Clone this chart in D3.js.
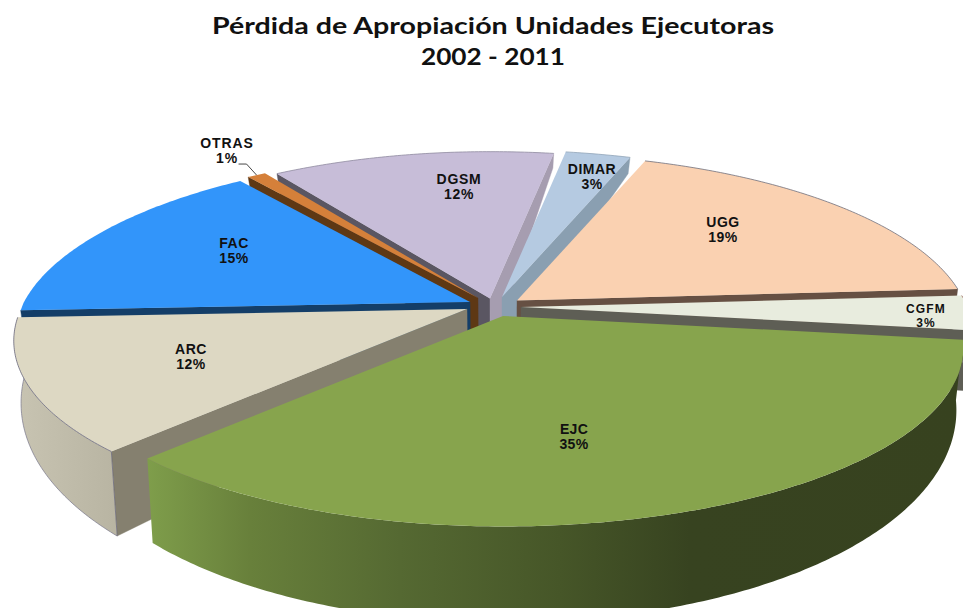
<!DOCTYPE html>
<html><head><meta charset="utf-8">
<script src="https://cdn.jsdelivr.net/npm/d3@7"></script>
<style>html,body{margin:0;padding:0;background:#fff;overflow:hidden}svg{display:block}</style>
</head><body><svg id="c" width="963" height="608"></svg>
<script>
// ---- data
const categories = ["EJC","ARC","FAC","OTRAS","DGSM","DIMAR","UGG","CGFM"];
const values     = [35.1, 12, 15.49, 0.8, 12.15, 2.75, 18.5, 3.21];
const titleLines = ["Pérdida de Apropiación Unidades Ejecutoras","2002 - 2011"];
// ---- styles
const topColors   = ["#87a44d","#ddd8c3","#3295fa","#d5803a","#c7bdd8","#b5cae1","#fad1b1","#e8ecde"];
const startWalls  = ["#3a4420","#85806f","#143e68","#5e3814","#5a5662","#8a9fb1","#665043","#5e5e55"];
const endWalls    = ["#3a4420","#85806f","#143e68","#5e3814","#a69db0","#8a9fb1","#665043","#5e5e55"];
const rimStrokes  = ["none","#6b6a80","none","none","#8f8aa0","#8fa3b8","#70707c","#9a6a60"];
const outerColors = [null,"arc",null,null,null,null,null,"#7a7a70"];
// ---- layout
const apexDX = [503,467,470,478,490,502,517,521];
const apexDY = [316,309,302,298,298.5,297,300.5,307];
const labelX = [574,191,234,227,459,592,723,926];
const labelY = [429,349,243,143,179,169,222,308];
const labelGap = [15,15,15,15,15,15,15,13.8];
const labelSize = [14,14,14,14,14,14,14,12];
const labelSpacing = [0.3,0.5,0.5,0.9,0.7,0.5,0.5,1.2];
const R_RIGHT = 453, R_RIGHT_BACK = 447, R_LEFT = 446, R_LEFT_BACK_DROP = 12;
const RK = 173, P = 0.178, CX = 500, SHRINK = 0.985;
const startAngle = (97.7) * Math.PI / 180;

const svg = d3.select("#c");
const defs = svg.append("defs");
function grad(id, stops){
  const g = defs.append("linearGradient").attr("id",id).attr("gradientUnits","userSpaceOnUse")
    .attr("x1",0).attr("x2",963).attr("y1",0).attr("y2",0);
  stops.forEach(([x,c])=>g.append("stop").attr("offset",x/963).attr("stop-color",c));
}
grad("ejc",[[146,"#7f9e4b"],[250,"#68803b"],[400,"#556932"],[560,"#465628"],[690,"#374320"],[963,"#37421f"]]);
grad("arc",[[13,"#c8c4b2"],[120,"#b8b4a2"]]);

const depth = v => 14 + 41 * (v + 1);
const persp = v => 1 / (1 - P * v);
function radius(u, v){
  if (u >= 0) return v < 0 ? R_RIGHT_BACK : R_RIGHT;
  return v < 0 ? R_LEFT + R_LEFT_BACK_DROP * v : R_LEFT;
}
function project(a, r, theta){
  const u = r*Math.cos(theta), v = r*Math.sin(theta), s = persp(v);
  return {x: a.x + u*radius(u,v)*s, y: a.y + v*RK*s, v};
}
function lower(p){ return {x: CX + (p.x-CX)*SHRINK, y: p.y + depth(p.v)}; }
const line = d3.line().x(d=>d.x).y(d=>d.y);

const pie = d3.pie().sort(null).startAngle(startAngle).endAngle(startAngle+2*Math.PI);
const arcs = pie(values).map((d,i)=>({
  i, t0:d.startAngle-Math.PI/2, t1:d.endAngle-Math.PI/2,
  a:{x:apexDX[i],y:apexDY[i]}
}));
const samples = (t0,t1)=>{ const n=Math.max(2,Math.ceil((t1-t0)*90)); return d3.range(n+1).map(k=>t0+(t1-t0)*k/n); };
const order = arcs.slice().sort((p,q)=>Math.sin((p.t0+p.t1)/2)-Math.sin((q.t0+q.t1)/2));

order.forEach(s=>{
  const g = svg.append("g");
  const {a,t0,t1,i} = s;
  const A = {x:a.x,y:a.y,v:0};
  const wall = (t,color)=>{
    const p = project(a,1,t);
    g.append("path").attr("d",line([A,p,lower(p),lower(A)])+"Z").attr("fill",color).attr("stroke",color).attr("stroke-width",.4);
  };
  if (Math.cos(t0) < 0) wall(t0,startWalls[i]);
  if (Math.cos(t1) > 0) wall(t1,endWalls[i]);
  // outer wall, facing part only
  const fill = categories[i]==="EJC" ? "url(#ejc)" : categories[i]==="ARC" ? "url(#arc)" : outerColors[i];
  if (fill) [[0,Math.PI],[2*Math.PI,3*Math.PI]].forEach(([lo,hi])=>{
    const b0=Math.max(t0,lo), b1=Math.min(t1,hi);
    if (b1<=b0) return;
    const top = samples(b0,b1).map(t=>project(a,1,t));
    const pts = top.concat(top.slice().reverse().map(lower));
    g.append("path").attr("d",line(pts)+"Z").attr("fill",fill);
    if (categories[i]==="ARC") {
      g.append("path").attr("d",line(pts.slice(-Math.ceil(pts.length/2)))).attr("fill","none").attr("stroke","#77758a").attr("stroke-width",.7);
      const e=project(a,1,b0); g.append("path").attr("d",line([e,lower(e)])).attr("stroke","#66647a").attr("stroke-width",.7);
    }
  });
  // top face
  const rim = samples(t0,t1).map(t=>project(a,1,t));
  g.append("path").attr("d",line([A].concat(rim))+"Z").attr("fill",topColors[i]);
  if (rimStrokes[i]!=="none")
    g.append("path").attr("d",line(rim)).attr("fill","none").attr("stroke",rimStrokes[i]).attr("stroke-width",.8);
});

// leader line for the smallest slice
const otras = arcs[categories.indexOf("OTRAS")];
const tip = project(otras.a,1,(otras.t0+otras.t1)/2);
svg.append("path").attr("fill","none").attr("stroke","#333").attr("stroke-width",.9)
  .attr("d",line([{x:tip.x-18,y:tip.y-11},{x:tip.x-10,y:tip.y-11},tip]));

// labels
categories.forEach((c,i)=>{
  const t = svg.append("text").attr("text-anchor","middle")
    .attr("font-family","'Liberation Sans',Arial,sans-serif").attr("font-weight","bold").attr("font-size",labelSize[i]).attr("letter-spacing",labelSpacing[i]).attr("fill","#111");
  t.append("tspan").attr("x",labelX[i]).attr("y",labelY[i]+5).text(c);
  t.append("tspan").attr("x",labelX[i]).attr("y",labelY[i]+5+labelGap[i]).text(Math.round(values[i])+"%");
});

// title
titleLines.forEach((s,i)=>{
  svg.append("text").attr("x",493).attr("y",i?65:34).attr("text-anchor","middle")
    .attr("font-family","Lato,'Open Sans',sans-serif").attr("font-weight","bold").attr("font-size",23.5)
    .attr("fill","#111").attr("textLength",i?144:562).attr("lengthAdjust","spacingAndGlyphs").text(s);
});
</script></body></html>
